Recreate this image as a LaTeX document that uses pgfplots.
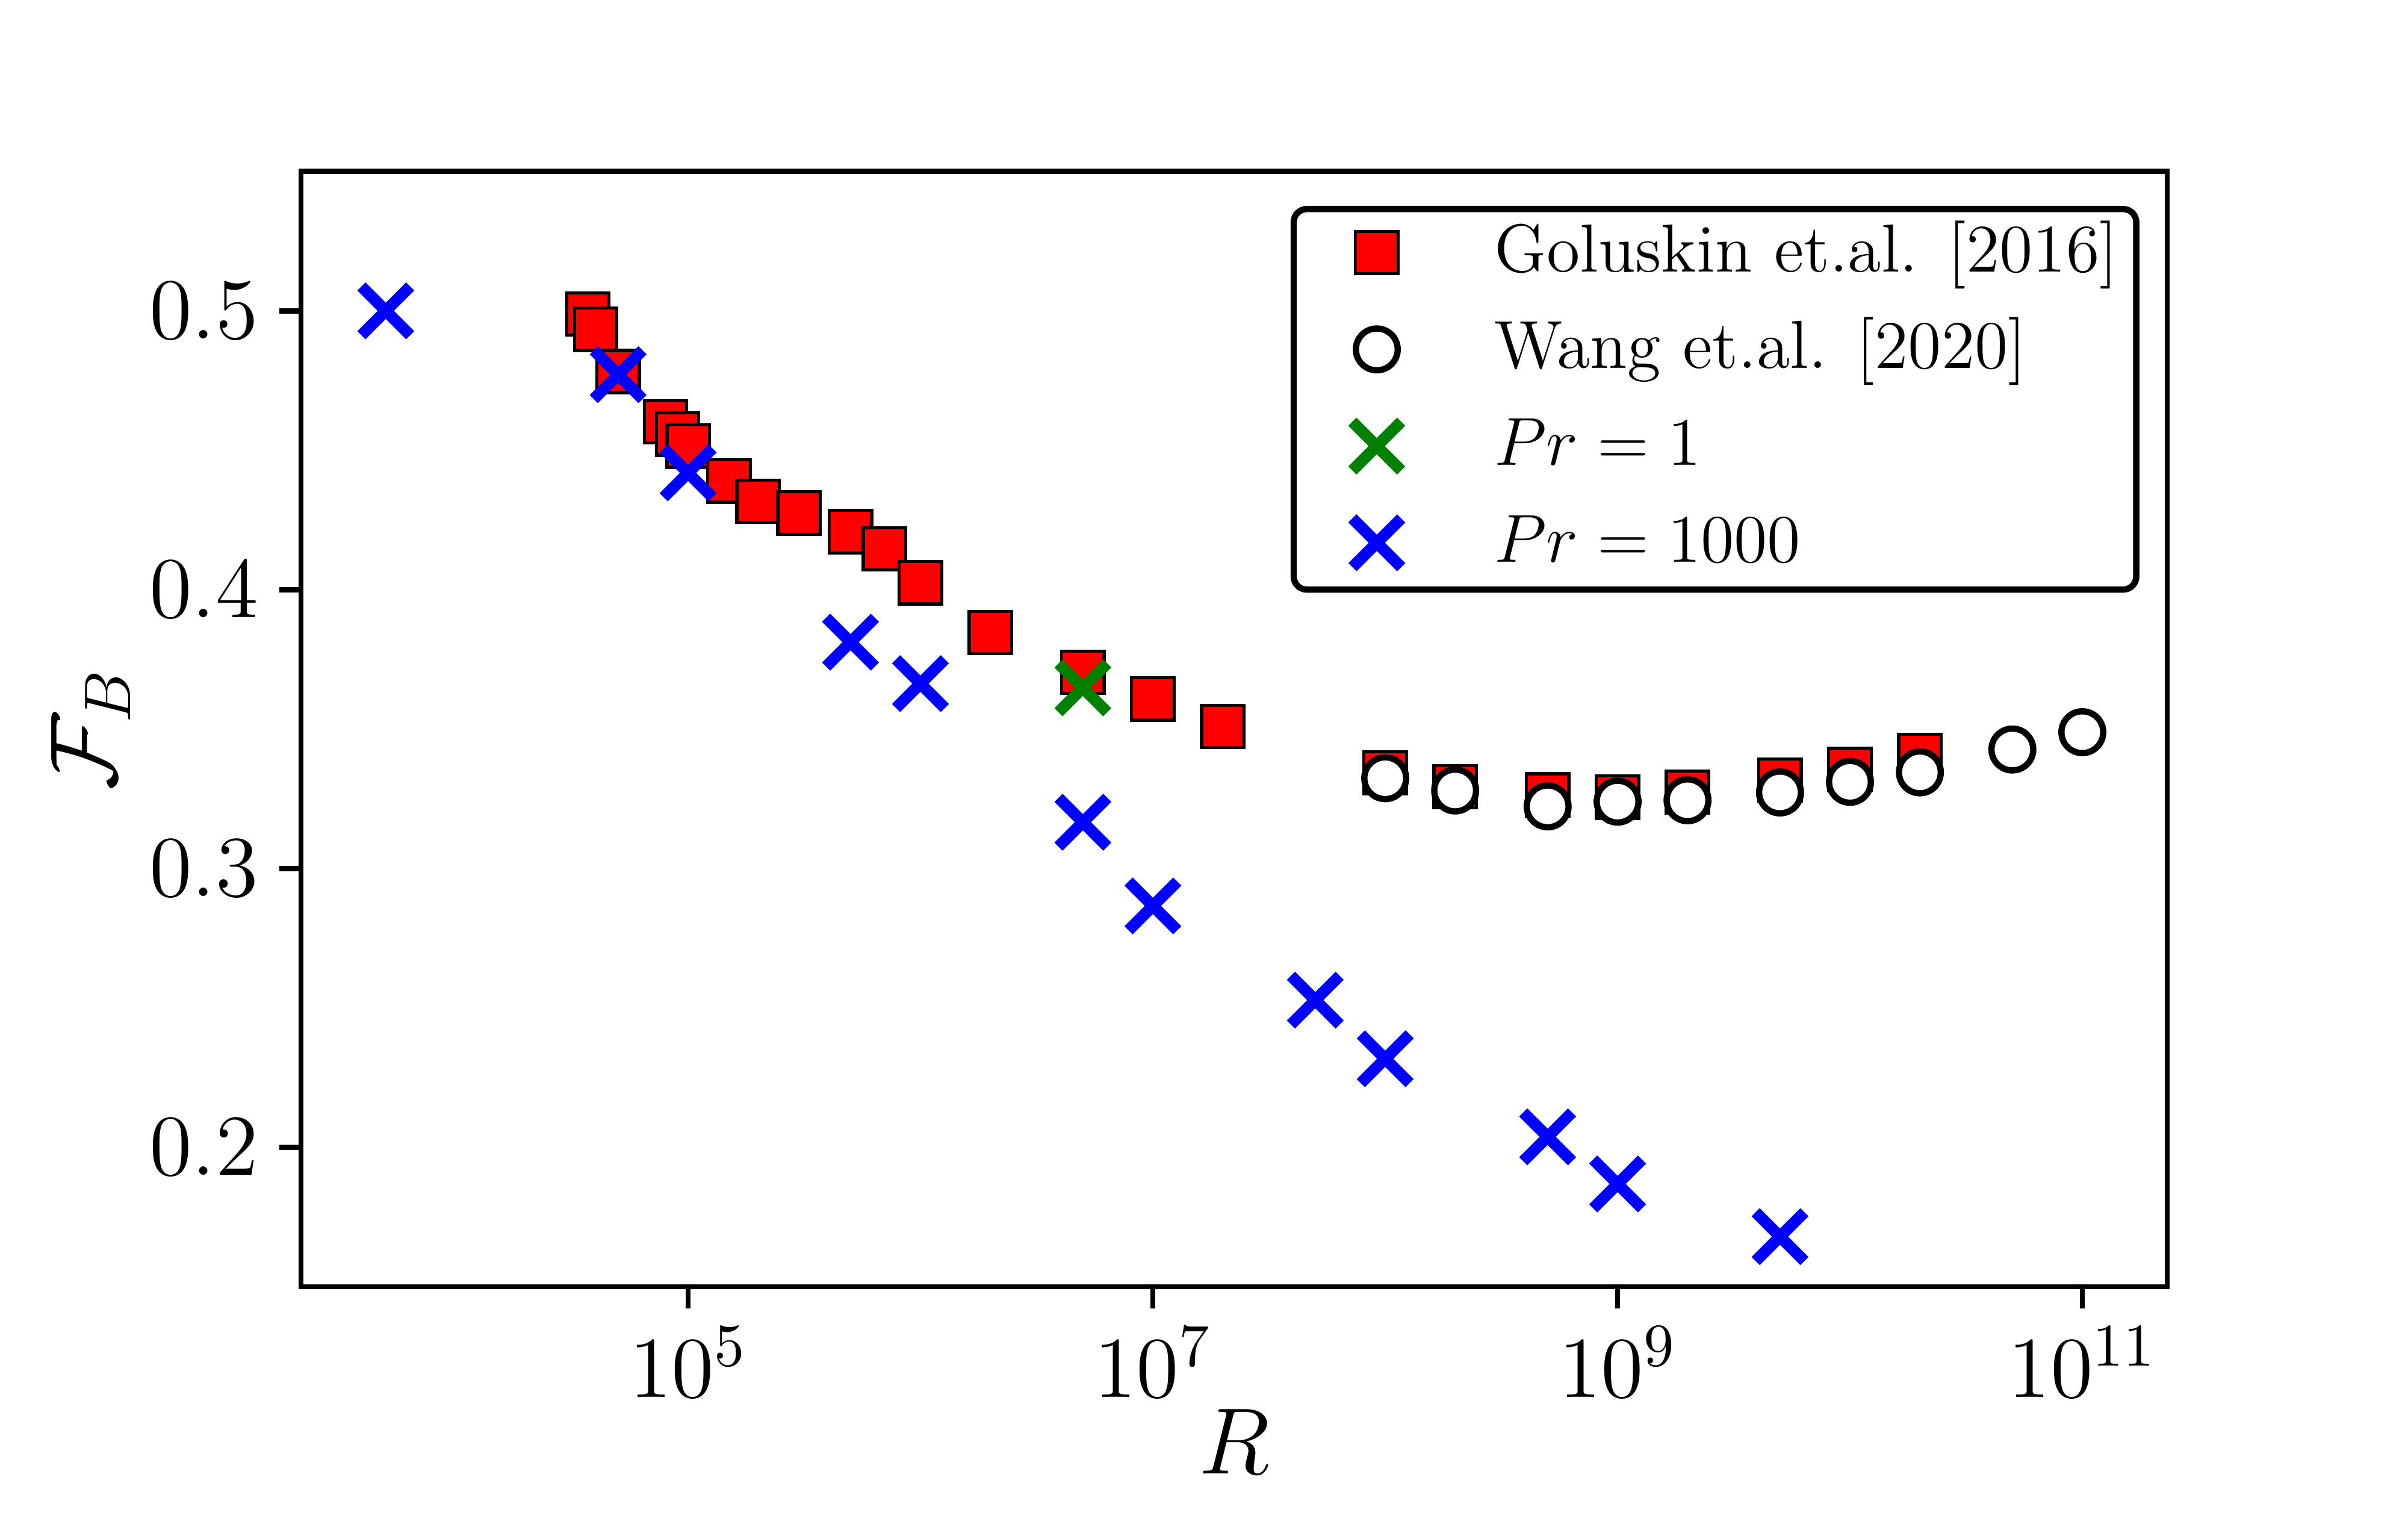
\RequirePackage{fix-cm}
\documentclass[border=0pt]{standalone}
\usepackage{fontspec}
\usepackage{pgfplots}
\pgfplotsset{compat=1.18}
\definecolor{mplgreen}{RGB}{0,128,0}
\begin{document}
\begin{tikzpicture}
\path[use as bounding box] (-57.6pt,-44.7pt) rectangle (403.2pt,246.2pt);
\begin{axis}[
  scale only axis,
  width=357.1pt, height=213.4pt,
  xmode=log,
  xmin=2158, xmax=2.317e11,
  ymin=0.15, ymax=0.55,
  xtick={1e5,1e7,1e9,1e11},
  ytick={0.2,0.3,0.4,0.5},
  xtick pos=bottom, ytick pos=left,
  xminorticks=false, yminorticks=false,
  tick align=outside,
  major tick length=4.1pt,
  tick style={black, line width=1pt},
  axis line style={line width=1pt},
  ticklabel style={font=\fontsize{16.6}{19}\selectfont},
  yticklabel style={/pgf/number format/fixed, /pgf/number format/precision=1, xshift=-0.6pt},
  xlabel={$R$},
  ylabel={$\mathcal{F}_B$},
  xlabel style={font=\fontsize{18}{21}\selectfont, at={(axis description cs:0.5,-0.1678)}, anchor=base},
  ylabel style={font=\fontsize{18}{21}\selectfont, at={(axis description cs:-0.1126,0.5)}, anchor=center},
  legend cell align=left,
  legend style={
    at={(rel axis cs:1,1)}, anchor=north east, xshift=-5.3pt, yshift=-6.6pt,
    draw=black, line width=1.2pt, rounded corners=2.5pt,
    inner xsep=3.5pt, inner ysep=2pt,
    font=\fontsize{13}{15}\selectfont,
    row sep=5.2pt,
    nodes={inner sep=0pt, text height=10pt, text depth=3.3pt},
  },
  legend image code/.code={
    \path[draw=none, fill=none] (0pt,-1pt) rectangle (34.9pt,1pt);
    \draw[#1] plot coordinates {(12.4pt,0.3pt)};
  },
]
\addplot[only marks, mark=square*, mark size=4.05pt, line width=0.6pt, mark options={fill=red, draw=black, line width=0.6pt}] coordinates {
(37000,0.4989) (40000,0.4934) (50000,0.4782) (80000,0.4602) (90000,0.4558)
(1e5,0.4515) (1.5e5,0.439) (2e5,0.4317) (3e5,0.4275) (5e5,0.4208) (7e5,0.4147)
(1e6,0.4025) (2e6,0.3846) (5e6,0.3704) (1e7,0.3608) (2e7,0.3509)
(1e8,0.3343) (2e8,0.3294) (5e8,0.3264) (1e9,0.3256) (2e9,0.3274) (5e9,0.3317) (1e10,0.3356) (2e10,0.3406)
};
\addlegendentry{Goluskin et.al. [2016]}
\addplot[only marks, mark=*, mark size=4.0pt, line width=1.2pt, mark options={fill=white, draw=black, line width=1.2pt}] coordinates {
(1e8,0.3324) (2e8,0.328) (5e8,0.3223) (1e9,0.324) (2e9,0.3245) (5e9,0.3273) (1e10,0.3311) (2e10,0.3345) (5e10,0.3427) (1e11,0.3489)
};
\addlegendentry{Wang et.al. [2020]}
\addplot[only marks, mark=x, mark size=6.6pt, line width=2.2pt, mark options={draw=mplgreen, line width=2.2pt}] coordinates {
(5e6,0.3648)
};
\addlegendentry{$Pr=1$}
\addplot[only marks, mark=x, mark size=6.6pt, line width=2.2pt, mark options={draw=blue, line width=2.2pt}] coordinates {
(5000,0.5) (50000,0.4771) (1e5,0.4419) (5e5,0.3812) (1e6,0.3663) (5e6,0.3166) (1e7,0.2866)
(5e7,0.2528) (1e8,0.2318) (5e8,0.2038) (1e9,0.1869) (5e9,0.168)
};
\addlegendentry{$Pr=1000$}
\end{axis}
\end{tikzpicture}
\end{document}
